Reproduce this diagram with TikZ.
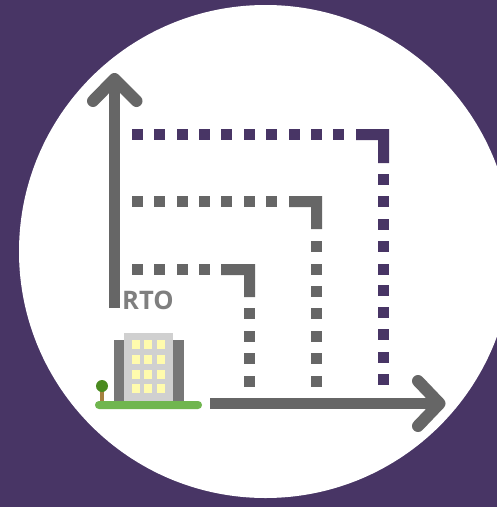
\documentclass[tikz,border=0pt]{standalone}
\usepackage{fontspec}
\setmainfont{Open Sans}
\definecolor{plum}{HTML}{483565}
\definecolor{slate}{HTML}{666666}
\definecolor{side}{HTML}{777777}
\definecolor{core}{HTML}{D0D0D0}
\definecolor{win}{HTML}{FFFBAD}
\definecolor{lawn}{HTML}{70B64F}
\definecolor{crown}{HTML}{4A8A1F}
\definecolor{trunk}{HTML}{A5813F}
\definecolor{labelgrey}{HTML}{7F7F7F}
\tikzset{
  bigarrow/.style={draw=slate,line width=12pt,line cap=round,line join=round},
  shaft/.style={draw=slate,line width=11.5pt,line cap=butt},
}
\newcommand{\dotsq}[3]{\fill[#1] (#2,#3) rectangle ++(11,11);}
\begin{document}
\begin{tikzpicture}[x=1pt,y=-1pt]
\useasboundingbox (0,0) rectangle (497,507);
\clip (0,0) rectangle (497,507);
\fill[plum] (0,0) rectangle (497,507);
\fill[white] (265.5,251.5) circle[radius=246.5];
% purple dotted path
\foreach \x in {132,154,177,199,221,244,266,289,311,333} {\dotsq{plum}{\x}{129}}
\fill[plum] (356,129) -- (389,129) -- (389,163) -- (378,163) -- (378,140) -- (356,140) -- cycle;
\foreach \y in {174,196,219,241,264,285,307,329,352,374} {\dotsq{plum}{378}{\y}}
% middle dotted path
\foreach \x in {132,154,177,199,221,244,266} {\dotsq{slate}{\x}{196}}
\fill[slate] (289,196) -- (322,196) -- (322,229) -- (311,229) -- (311,207) -- (289,207) -- cycle;
\foreach \y in {241,264,286,308,331,353,376} {\dotsq{slate}{311}{\y}}
% lower dotted path
\foreach \x in {132,154,177,199} {\dotsq{slate}{\x}{264}}
\fill[slate] (221,264) -- (255,264) -- (255,297) -- (244,297) -- (244,275) -- (221,275) -- cycle;
\foreach \y in {308,331,353,376} {\dotsq{slate}{244}{\y}}
% axes
\coordinate (upbase) at (114.5,308);
\coordinate (uptip) at (114.5,79);
\coordinate (rbase) at (210,403.5);
\coordinate (rtip) at (439.5,403.5);
\draw[shaft] (upbase) -- (uptip);
\draw[bigarrow] (93,101) -- (uptip) -- (136.5,101);
\draw[shaft] (rbase) -- (rtip);
\draw[bigarrow] (418,381) -- (rtip) -- (418,426);
% label
\node[anchor=base west,inner sep=0pt,text=labelgrey,font=\fontsize{25.5}{25.5}\selectfont\bfseries] (rto) at (122,309) {RTO};
% building
\fill[side] (114,340) rectangle (184,401);
\fill[core] (124,333) rectangle (173,401);
\foreach \y in {340,355,370,384} \foreach \x in {132,144,157} {\fill[win] (\x,\y) rectangle ++(8,8.5);}
% tree
\fill[trunk] (100,390) rectangle (104,402);
\fill[crown] (102,386) circle[radius=6];
% ground
\fill[lawn,rounded corners=3.9pt] (95,401) rectangle (202,409);
\end{tikzpicture}
\end{document}
